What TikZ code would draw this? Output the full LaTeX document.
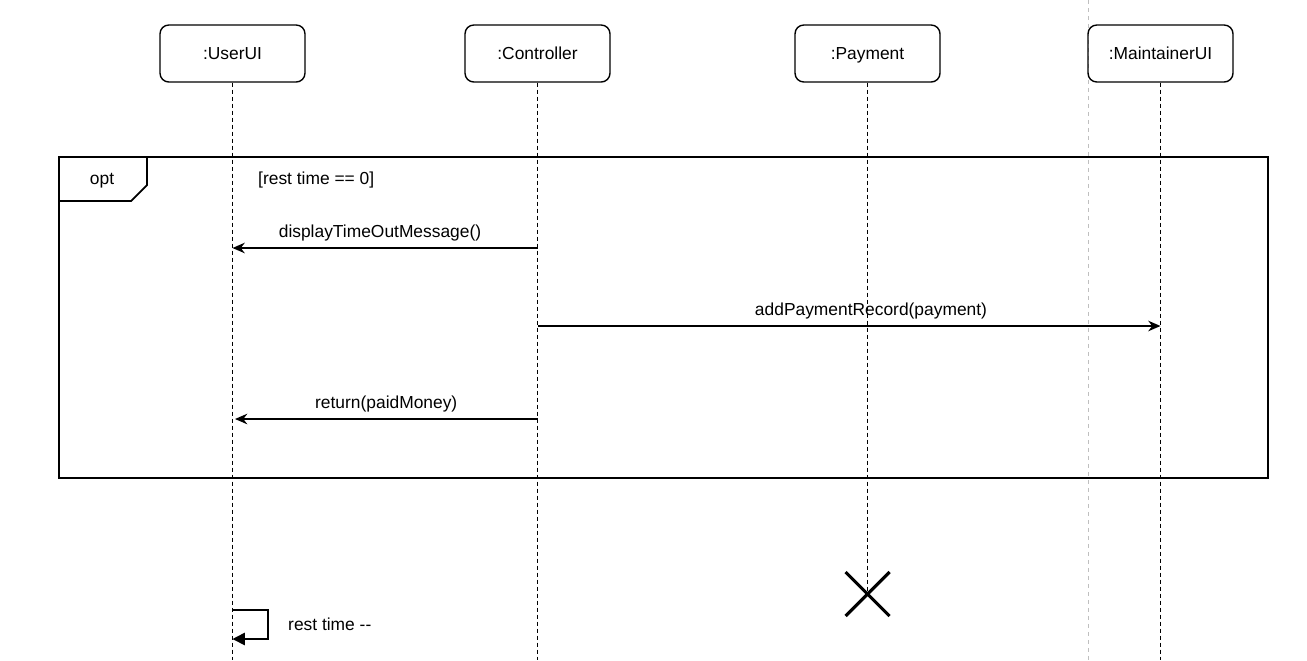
\documentclass[tikz,border=0pt]{standalone}
\usepackage{fontspec}
\setmainfont{Liberation Sans}
\usetikzlibrary{arrows.meta,calc}
\begin{document}
\begin{tikzpicture}[x=0.02cm,y=-0.02cm,
    font=\fontsize{9.9}{12}\selectfont,
    object/.style={draw,rounded corners=5pt,line width=0.8pt,minimum width=2.9cm,minimum height=1.14cm,text height=1.8ex,text depth=0.5ex},
    lifeline/.style={line width=1pt,dash pattern=on 0.08cm off 0.06cm},
    msg/.style={-{Stealth[length=7pt,width=6pt]},line width=0.9pt},
    selfmsg/.style={-{Triangle[length=7pt,width=7pt]},line width=0.9pt}]
  \useasboundingbox (0,0) rectangle (1307,660);
  \draw[gray!50,line width=0.5pt,dash pattern=on 0.08cm off 0.08cm] (1088,0) -- (1088,660);
  \draw
    (232.5,53.5) node[object] (userui){:UserUI}
    (537.5,53.5) node[object] (ctrl){:Controller}
    (867.5,53.5) node[object] (payment){:Payment}
    (1160.5,53.5) node[object] (maint){:MaintainerUI};
  % lifelines
  \coordinate (userend) at (232.5,660);
  \coordinate (ctrlend) at (537.5,660);
  \coordinate (payend) at (867.5,594);
  \coordinate (maintend) at (1160.5,660);
  \begin{scope}[lifeline]
    \draw (userui) to (userend);
    \draw (ctrl) to (ctrlend);
    \draw (payment) to (payend);
    \draw (maint) to (maintend);
  \end{scope}
  % opt frame
  \draw[line width=1pt] (59,157) rectangle (1268,478);
  \draw[line width=1pt] (147,157) -- (147,185) -- (131,201) -- (59,201);
  \node (opt) at (102,181) {opt};
  \node[anchor=west] (guard) at (252,180) {[rest time == 0]};
  % messages
  \coordinate (c1) at (537.5,248);
  \coordinate (u1) at (232.5,248);
  \coordinate (c2) at (537.5,326);
  \coordinate (m2) at (1160.5,326);
  \coordinate (c3) at (537.5,419);
  \coordinate (u3) at (235,419);
  \begin{scope}[msg]
    \draw (c1) to node[above,xshift=-0.1cm] {displayTimeOutMessage()} (u1);
    \draw (c2) to node[above,xshift=0.44cm] {addPaymentRecord(payment)} (m2);
    \draw (c3) to node[above] {return(paidMoney)} (u3);
  \end{scope}
  % self message
  \coordinate (s1) at (232.5,610);
  \coordinate (s2) at (232.5,639);
  \draw[selfmsg] (s1) -- (268,610) -- (268,639) -- (s2);
  \node[anchor=west] (dec) at (282,624) {rest time -{}-};
  % destruction
  \draw[line width=1.8pt] ($(payend)+(-22,-22)$) -- ($(payend)+(22,22)$);
  \draw[line width=1.8pt] ($(payend)+(-22,22)$) -- ($(payend)+(22,-22)$);
\end{tikzpicture}
\end{document}
